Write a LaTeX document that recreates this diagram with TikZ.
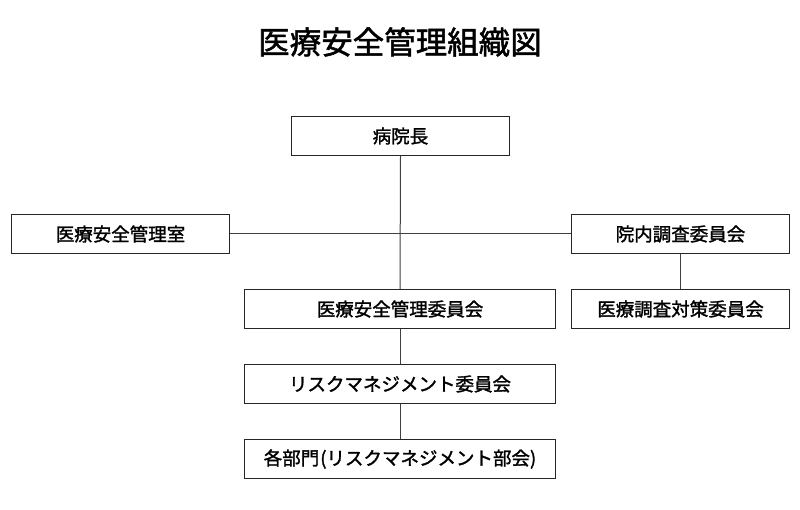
\documentclass[tikz,border=0pt]{standalone}
\usepackage{fontspec}
\setmainfont{Noto Sans CJK JP}[FakeBold=1.6]
\begin{document}
\begin{tikzpicture}[x=1pt,y=-1pt,
  box/.style={draw=black!85,line width=1pt,minimum width=218pt,minimum height=39pt,inner sep=0pt,font=\fontsize{18.5}{20}\selectfont,anchor=north west,text width=218pt,align=center},
  wbox/.style={box,minimum width=311pt,text width=311pt},
  conn/.style={draw=black!75,line width=1pt}]
\useasboundingbox (0,0) rectangle (800,510);
\node[font=\fontsize{31.5}{34}\selectfont] (title) at (400,42) {医療安全管理組織図};
\node[box] (dir) at (291,116) {病院長};
\node[box] (office) at (11,214) {医療安全管理室};
\node[box] (inv) at (571,214) {院内調査委員会};
\node[wbox] (safety) at (244,289) {医療安全管理委員会};
\node[box] (meas) at (571,289) {医療調査対策委員会};
\node[wbox] (risk) at (244,364) {リスクマネジメント委員会};
\node[wbox] (dept) at (244,439) {各部門\kern1pt(リスクマネジメント部会)};
\draw[conn] (dir.south) -- (safety.north);
\draw[conn] (office.east) -- (inv.west);
\draw[conn] (inv.south) -- (meas.north);
\draw[conn] (safety.south) -- (risk.north);
\draw[conn] (risk.south) -- (dept.north);
\end{tikzpicture}
\end{document}
